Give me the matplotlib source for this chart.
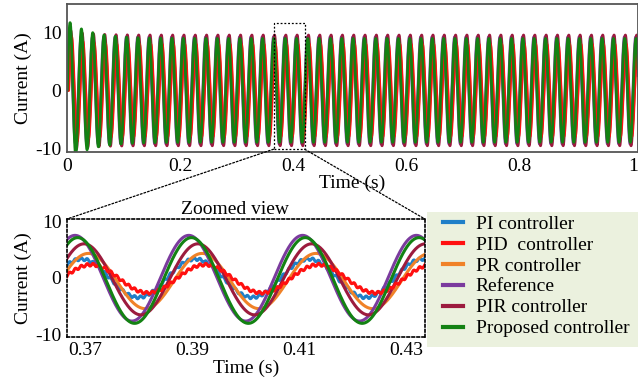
import numpy as np
import matplotlib

matplotlib.use("Agg")
import matplotlib.pyplot as plt
from matplotlib.patches import Rectangle, ConnectionPatch

plt.rcParams["font.family"] = ["Liberation Serif", "DejaVu Serif"]
plt.rcParams["axes.unicode_minus"] = False

# controllers, in drawing order
names = ["PI controller", "PID  controller", "PR controller", "Reference",
         "PIR controller", "Proposed controller"]
colors = ["#1f7fc8", "#ff1010", "#f08228", "#7b3b9e", "#9c1b3e", "#138213"]
draw_order = [0, 2, 3, 4, 1, 5]

# full run (0-1 s): 50 Hz, steady amplitude, start-up overshoot, lag (s)
f_full = 50.0
full_amp = [6.5, 8.0, 6.5, 9.3, 9.6, 9.0]
full_overshoot = [0.15, 0.25, 0.05, 0.0, 0.1, 0.35]
full_tau = [0.03, 0.02, 0.03, 0.03, 0.03, 0.04]
full_lag = [0.0012, 0.0030, 0.0028, 0.0, 0.0017, 0.0005]

# zoomed view (0.3665-0.4335 s): amplitude, offset, time of first peak, ripple
f_zoom = 1 / 0.0213
zoom_amp = [3.4, 2.5, 4.9, 7.6, 6.3, 7.6]
zoom_offset = [-0.1, -0.2, -0.6, -0.1, -0.3, -0.5]
zoom_peak = [0.3692, 0.3710, 0.3705, 0.3680, 0.3697, 0.3685]
zoom_ripple = [0.25, 0.25, 0.0, 0.0, 0.0, 0.0]

zoom_box = (0.365, 0.42, -10.2, 11.6)

fig = plt.figure(figsize=(6.38, 3.89), dpi=100)
ax1 = fig.add_axes([0.105, 0.609, 0.895, 0.381])
ax2 = fig.add_axes([0.105, 0.134, 0.561, 0.303])

t = np.linspace(0, 1.01, 8000)
for i in draw_order:
    env = full_amp[i] * (1 + full_overshoot[i] * np.exp(-t / full_tau[i]))
    y = env * np.sin(2 * np.pi * f_full * (t - full_lag[i]))
    y[t < full_lag[i]] = 0
    ax1.plot(t, y, color=colors[i], lw=2.0)

tz = np.linspace(0.3665, 0.4335, 1500)
for i in draw_order:
    y = zoom_offset[i] + zoom_amp[i] * np.cos(2 * np.pi * f_zoom * (tz - zoom_peak[i]))
    y = y + zoom_ripple[i] * np.sin(2 * np.pi * 900 * tz)
    ax2.plot(tz, y, color=colors[i], lw=2.2, label=names[i])

ax1.set_xlim(0, 1.009)
ax1.set_ylim(-10.7, 15)
ax1.set_xticks([0, 0.2, 0.4, 0.6, 0.8, 1], ["0", "0.2", "0.4", "0.6", "0.8", "1"])
ax1.set_yticks([-10, 0, 10])
ax1.set_xlabel("Time (s)", fontsize=14, labelpad=0)
ax1.set_ylabel("Current (A)", fontsize=14, labelpad=2)
for s in ax1.spines.values():
    s.set_color("#555555")
    s.set_linewidth(1.3)

x0, x1, y0, y1 = zoom_box
ax1.add_patch(Rectangle((x0, y0), x1 - x0, y1 - y0, fill=False, ls=(0, (1.5, 1.5)),
                        lw=0.9, color="black", zorder=5))

ax2.set_xlim(0.3665, 0.4335)
ax2.set_ylim(-10.5, 10.4)
ax2.set_xticks([0.37, 0.39, 0.41, 0.43])
ax2.set_yticks([-10, 0, 10])
ax2.set_xlabel("Time (s)", fontsize=14, labelpad=0)
ax2.set_ylabel("Current (A)", fontsize=14, labelpad=2)
for s in ax2.spines.values():
    s.set_linestyle((0, (1.5, 1.5)))
    s.set_linewidth(1.2)
    s.set_color("black")
ax2.text(0.47, 1.01, "Zoomed view", transform=ax2.transAxes, ha="center",
         va="bottom", fontsize=14)

for ax in (ax1, ax2):
    ax.tick_params(length=0, labelsize=14, pad=4)

for xa, xb in ((x0, 0), (x1, 1)):
    con = ConnectionPatch(xyA=(xa, y0), coordsA=ax1.transData,
                          xyB=(xb, 1), coordsB=ax2.transAxes,
                          ls=(0, (1.5, 1.5)), lw=0.9, color="black")
    fig.add_artist(con)

# legend background panel
fig.add_artist(Rectangle((0.669, 0.108), 0.331, 0.347, transform=fig.transFigure,
                         facecolor="#ebf1de", edgecolor="none", zorder=0))

handles, labels = ax2.get_legend_handles_labels()
order = [labels.index(n) for n in names]
leg = fig.legend([handles[k] for k in order], [labels[k] for k in order],
                 loc="upper left", bbox_to_anchor=(0.694, 0.447),
                 fontsize=14, handlelength=1.05, handletextpad=0.65,
                 labelspacing=0.17, borderpad=0, borderaxespad=0,
                 frameon=False)
for line in leg.get_lines():
    line.set_linewidth(3)

fig.savefig("out.png", dpi=100)
